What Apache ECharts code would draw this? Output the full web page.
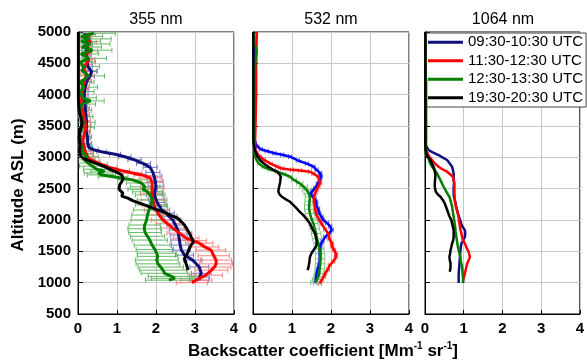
<!DOCTYPE html>
<html>
<head>
<meta charset="utf-8">
<script src="https://cdn.jsdelivr.net/npm/echarts@6/dist/echarts.min.js"></script>
<style>
  html, body { margin: 0; padding: 0; background: #fff; }
  #chart { width: 587px; height: 362px; }
</style>
</head>
<body>
<div id="chart"></div>
<script>
// panel titles, legend entries and tick values
const wavelengths = ['355 nm', '532 nm', '1064 nm'];
const periods = ['09:30-10:30 UTC', '11:30-12:30 UTC', '12:30-13:30 UTC', '19:30-20:30 UTC'];
const xTicks = [0, 1, 2, 3, 4];
const altTicks = [500, 5000, 500]; // min, max, step

// rows: [altitude m, backscatter Mm-1 sr-1, error]
const blue355 = [[1040,3.10,0.25],[1090,3.12,0.25],[1150,3.16,0.25],[1250,3.11,0.24],[1360,2.94,0.24],[1440,2.73,0.23],[1520,2.65,0.23],[1600,2.62,0.22],[1680,2.60,0.22],[1760,2.58,0.22],[1840,2.56,0.22],[1920,2.50,0.22],[2000,2.43,0.21],[2060,2.33,0.21],[2110,2.26,0.21],[2160,2.15,0.2],[2220,2.09,0.2],[2280,2.03,0.2],[2330,2.00,0.2],[2400,1.96,0.2],[2450,1.97,0.2],[2540,2.00,0.2],[2620,1.98,0.2],[2700,1.95,0.2],[2760,1.92,0.18],[2840,1.85,0.18],[2900,1.68,0.18],[2960,1.45,0.17],[3010,1.20,0.16],[3050,0.95,0.14],[3090,0.60,0.12],[3120,0.40,0.12],[3160,0.28,0.1],[3220,0.25,0.1],[3330,0.24,0.1],[3420,0.21,0.1],[3500,0.22,0.1],[3580,0.22,0.1],[3680,0.20,0.1],[3790,0.19,0.1],[3900,0.17,0.1],[4000,0.16,0.1],[4100,0.18,0.1],[4210,0.22,0.12],[4290,0.30,0.12],[4370,0.35,0.12],[4450,0.25,0.12],[4530,0.24,0.12],[4620,0.22,0.12],[4700,0.22,0.12],[4800,0.25,0.12],[4900,0.20,0.12],[4980,0.17,0.12]];
const red355 = [[1000,2.92,0.4],[1040,3.03,0.4],[1120,3.28,0.42],[1200,3.42,0.42],[1250,3.50,0.42],[1300,3.54,0.42],[1360,3.54,0.4],[1430,3.48,0.4],[1520,3.41,0.38],[1570,3.25,0.36],[1630,3.11,0.35],[1670,2.95,0.34],[1710,2.77,0.33],[1790,2.60,0.32],[1870,2.43,0.3],[1940,2.30,0.3],[2000,2.18,0.3],[2080,2.08,0.3],[2160,2.00,0.3],[2240,1.95,0.3],[2320,1.92,0.3],[2420,1.90,0.3],[2510,1.90,0.3],[2600,1.90,0.28],[2670,1.85,0.28],[2710,1.70,0.26],[2750,1.40,0.24],[2790,1.10,0.22],[2840,0.80,0.2],[2890,0.58,0.18],[2940,0.40,0.16],[2990,0.26,0.15],[3050,0.22,0.15],[3100,0.18,0.14],[3180,0.15,0.14],[3260,0.12,0.14],[3340,0.15,0.14],[3420,0.18,0.14],[3500,0.20,0.14],[3580,0.18,0.14],[3660,0.15,0.14],[3740,0.12,0.14],[3820,0.10,0.14],[3900,0.09,0.14],[4000,0.10,0.14],[4080,0.12,0.14],[4160,0.15,0.14],[4240,0.18,0.15],[4320,0.22,0.15],[4400,0.15,0.15],[4480,0.20,0.15],[4560,0.28,0.15],[4640,0.18,0.15],[4700,0.35,0.15],[4770,0.20,0.15],[4840,0.32,0.15],[4900,0.20,0.15],[4960,0.30,0.15]];
const green355 = [[1040,2.33,0.6],[1070,2.48,0.6],[1100,2.40,0.6],[1150,2.22,0.6],[1200,2.18,0.6],[1250,2.12,0.58],[1300,2.05,0.56],[1360,2.02,0.55],[1420,2.04,0.52],[1470,2.02,0.5],[1530,1.97,0.48],[1600,1.90,0.46],[1680,1.84,0.45],[1740,1.78,0.44],[1800,1.72,0.42],[1860,1.70,0.42],[1920,1.71,0.4],[2000,1.76,0.4],[2080,1.78,0.4],[2160,1.82,0.4],[2240,1.87,0.4],[2320,1.90,0.38],[2400,1.85,0.38],[2450,1.78,0.38],[2490,1.66,0.38],[2530,1.72,0.38],[2590,1.62,0.38],[2640,1.40,0.38],[2690,0.90,0.38],[2720,0.60,0.36],[2750,0.52,0.36],[2780,0.68,0.35],[2810,0.48,0.34],[2860,0.36,0.32],[2910,0.26,0.3],[2960,0.16,0.28],[3010,0.24,0.28],[3060,0.14,0.26],[3120,0.10,0.25],[3200,0.08,0.25],[3300,0.06,0.25],[3400,0.05,0.25],[3480,0.12,0.3],[3560,0.14,0.3],[3650,0.08,0.3],[3750,0.05,0.3],[3850,0.10,0.35],[3900,0.32,0.35],[3950,0.12,0.35],[4050,0.06,0.35],[4120,0.15,0.35],[4200,0.06,0.35],[4300,0.28,0.4],[4380,0.10,0.4],[4450,0.15,0.4],[4520,0.05,0.4],[4580,0.28,0.45],[4650,0.08,0.45],[4710,0.37,0.5],[4760,0.10,0.5],[4810,0.32,0.5],[4850,0.08,0.5],[4890,0.30,0.55],[4930,0.08,0.55],[4980,0.41,0.55]];
const black355 = [[1200,2.82],[1250,2.80],[1305,2.77],[1385,2.73],[1440,2.78],[1492,2.82],[1550,2.86],[1600,2.90],[1640,2.95],[1680,2.94],[1730,2.90],[1787,2.86],[1850,2.80],[1921,2.73],[1970,2.65],[2028,2.56],[2070,2.40],[2109,2.26],[2150,2.10],[2189,1.92],[2230,1.75],[2270,1.58],[2310,1.40],[2350,1.28],[2380,1.12],[2403,1.07],[2430,1.15],[2457,1.11],[2490,1.05],[2520,1.02],[2564,1.07],[2610,1.12],[2645,1.15],[2690,1.14],[2725,1.11],[2760,1.00],[2800,0.85],[2856,0.67],[2900,0.48],[2936,0.32],[2980,0.15],[3016,0.08],[3060,0.05],[3120,0.04],[3200,0.05],[3300,0.03],[3400,0.04],[3480,0.08],[3550,0.10],[3620,0.08],[3700,0.04],[3800,0.02],[3950,0.01],[4300,0.01],[4700,0.01],[5000,0.01]];

const blue532 = [[1000,1.60,0.04],[1080,1.62,0.04],[1145,1.63,0.04],[1220,1.66,0.04],[1300,1.70,0.04],[1380,1.72,0.04],[1460,1.72,0.04],[1540,1.72,0.04],[1600,1.73,0.04],[1660,1.78,0.04],[1730,1.85,0.04],[1790,1.96,0.04],[1840,2.02,0.04],[1900,1.98,0.04],[1950,1.90,0.04],[2000,1.80,0.04],[2050,1.76,0.04],[2110,1.70,0.04],[2180,1.67,0.04],[2240,1.62,0.04],[2290,1.62,0.04],[2340,1.58,0.04],[2380,1.52,0.04],[2420,1.48,0.04],[2460,1.52,0.04],[2510,1.59,0.04],[2580,1.66,0.04],[2640,1.72,0.04],[2700,1.74,0.04],[2750,1.72,0.04],[2800,1.63,0.04],[2850,1.55,0.04],[2900,1.38,0.04],[2950,1.15,0.04],[3010,0.95,0.04],[3040,0.75,0.04],[3064,0.55,0.04],[3100,0.35,0.04],[3130,0.20,0.04],[3170,0.12,0.03],[3220,0.06,0.03],[3300,0.04,0],[3500,0.03,0],[3800,0.03,0],[4200,0.02,0],[4600,0.02,0],[5000,0.02,0]];
const red532 = [[990,1.72,0.04],[1040,1.76,0.04],[1100,1.82,0.04],[1150,1.85,0.04],[1210,1.92,0.04],[1280,1.97,0.04],[1340,2.06,0.04],[1400,2.12,0.04],[1460,2.13,0.04],[1520,2.08,0.04],[1580,2.03,0.04],[1630,2.02,0.04],[1700,1.96,0.04],[1780,1.93,0.04],[1850,1.85,0.04],[1940,1.76,0.04],[2000,1.70,0.04],[2080,1.63,0.04],[2150,1.60,0.04],[2210,1.59,0.04],[2290,1.57,0.04],[2370,1.56,0.04],[2430,1.60,0.04],[2480,1.63,0.04],[2540,1.68,0.04],[2590,1.72,0.04],[2640,1.70,0.04],[2690,1.68,0.04],[2740,1.55,0.04],[2770,1.46,0.04],[2790,1.20,0.04],[2800,1.00,0.04],[2820,0.75,0.04],[2850,0.62,0.04],[2900,0.45,0.04],[2960,0.28,0.04],[3010,0.18,0.03],[3070,0.10,0.03],[3120,0.06,0],[3200,0.05,0],[3400,0.06,0],[3700,0.07,0],[4000,0.08,0],[4400,0.08,0],[4800,0.09,0],[5000,0.10,0]];
const green532 = [[1000,1.60,0.12],[1050,1.64,0.12],[1100,1.68,0.12],[1145,1.70,0.12],[1220,1.71,0.12],[1300,1.72,0.12],[1380,1.72,0.12],[1465,1.72,0.12],[1540,1.70,0.12],[1625,1.68,0.12],[1700,1.64,0.12],[1785,1.62,0.12],[1860,1.58,0.12],[1945,1.55,0.12],[2020,1.50,0.12],[2104,1.46,0.12],[2170,1.44,0.12],[2238,1.44,0.12],[2300,1.45,0.12],[2371,1.46,0.12],[2420,1.43,0.12],[2478,1.38,0.12],[2530,1.30,0.1],[2584,1.20,0.08],[2640,1.05,0.06],[2691,0.95,0.05],[2730,0.80,0.04],[2771,0.61,0.04],[2810,0.42,0.04],[2850,0.26,0.03],[2900,0.15,0.03],[2957,0.09,0],[3020,0.05,0],[3100,0.04,0],[3200,0.03,0],[3400,0.03,0],[3700,0.04,0],[4000,0.04,0],[4300,0.04,0],[4600,0.07,0],[4700,0.10,0],[4800,0.04,0],[5000,0.03,0]];
const black532 = [[1200,1.40],[1240,1.42],[1305,1.44],[1360,1.45],[1411,1.46],[1470,1.50],[1518,1.55],[1560,1.60],[1598,1.63],[1640,1.63],[1678,1.63],[1730,1.61],[1785,1.59],[1860,1.52],[1945,1.46],[2010,1.38],[2078,1.29],[2130,1.20],[2184,1.12],[2240,1.03],[2291,0.95],[2330,0.84],[2371,0.74],[2410,0.68],[2451,0.65],[2500,0.66],[2558,0.68],[2620,0.70],[2691,0.71],[2730,0.68],[2771,0.61],[2810,0.50],[2850,0.39],[2900,0.28],[2957,0.18],[3030,0.10],[3117,0.05],[3200,0.02],[3277,0.01],[4000,0.01],[5000,0.01]];

const blue1064 = [[996,0.87],[1070,0.87],[1145,0.87],[1225,0.88],[1305,0.89],[1385,0.90],[1465,0.91],[1545,0.92],[1625,0.94],[1680,0.99],[1731,1.03],[1790,1.04],[1838,1.03],[1900,0.96],[1950,0.93],[1998,0.91],[2080,0.86],[2158,0.83],[2230,0.80],[2291,0.78],[2360,0.75],[2424,0.74],[2500,0.74],[2584,0.75],[2660,0.74],[2744,0.74],[2800,0.72],[2850,0.70],[2900,0.64],[2957,0.57],[3000,0.45],[3037,0.35],[3080,0.20],[3117,0.09],[3170,0.04],[3224,0.01],[4000,0.01],[5000,0.01]];
const red1064 = [[996,0.97],[1070,1.00],[1145,1.03],[1225,1.06],[1305,1.09],[1360,1.13],[1411,1.16],[1460,1.14],[1492,1.13],[1560,1.07],[1625,1.03],[1700,0.97],[1785,0.94],[1860,0.91],[1945,0.89],[2030,0.87],[2104,0.85],[2180,0.81],[2264,0.78],[2340,0.77],[2424,0.76],[2500,0.76],[2584,0.76],[2640,0.74],[2691,0.72],[2730,0.65],[2771,0.57],[2810,0.45],[2850,0.35],[2900,0.26],[2957,0.18],[3030,0.09],[3117,0.03],[3200,0.01],[5000,0.01]];
const green1064 = [[996,0.99],[1092,0.98],[1170,0.97],[1252,0.96],[1330,0.93],[1411,0.91],[1490,0.88],[1571,0.85],[1650,0.83],[1731,0.81],[1810,0.79],[1891,0.78],[1970,0.76],[2051,0.74],[2130,0.72],[2211,0.70],[2290,0.67],[2371,0.63],[2420,0.58],[2478,0.53],[2530,0.48],[2584,0.44],[2660,0.38],[2744,0.31],[2800,0.24],[2850,0.18],[2920,0.12],[2984,0.09],[3030,0.04],[3064,0.02],[3300,0.03],[3700,0.03],[4200,0.03],[4400,0.01],[5000,0.01]];
const black1064 = [[1175,0.64],[1240,0.66],[1305,0.66],[1360,0.64],[1411,0.63],[1470,0.65],[1518,0.66],[1570,0.68],[1625,0.70],[1680,0.73],[1731,0.74],[1790,0.74],[1838,0.74],[1920,0.71],[1998,0.68],[2060,0.63],[2131,0.59],[2200,0.55],[2264,0.51],[2320,0.46],[2371,0.40],[2410,0.33],[2451,0.28],[2500,0.26],[2558,0.25],[2640,0.26],[2718,0.27],[2790,0.25],[2850,0.22],[2900,0.18],[2957,0.14],[3010,0.07],[3064,0.03],[3150,0.01],[5000,0.01]];

const FONT = '"Liberation Sans", Arial, sans-serif';
const panels = [
  { data: [blue355, red355, green355, black355], left: 78, lw: 3,
    colors: ['#10107c', '#ff0000', '#008000', '#000000'], errColors: ['#7878c0', '#ff8080', '#66b866', '#000'] },
  { data: [blue532, red532, green532, black532], left: 253, lw: 2.5,
    colors: ['#0000ff', '#ff0000', '#008000', '#000000'], errColors: ['#6a6aff', '#ff7070', '#80c480', '#000'] },
  { data: [blue1064, red1064, green1064, black1064], left: 425, lw: 2.5,
    colors: ['#10107c', '#ff0000', '#008000', '#000000'], errColors: ['#7878c0', '#ff8080', '#66b866', '#000'] }
];
const gridTop = 32, gridW = 156, gridH = 282;

function errBar(color) {
  return function (params, api) {
    const x = api.value(0), y = api.value(1), e = api.value(2);
    const a = api.coord([x - e, y]);
    const b = api.coord([x + e, y]);
    const c = 2.5;
    const st = { stroke: color, lineWidth: 1 };
    return {
      type: 'group',
      children: [
        { type: 'line', shape: { x1: a[0], y1: a[1], x2: b[0], y2: b[1] }, style: st },
        { type: 'line', shape: { x1: a[0], y1: a[1] - c, x2: a[0], y2: a[1] + c }, style: st },
        { type: 'line', shape: { x1: b[0], y1: b[1] - c, x2: b[0], y2: b[1] + c }, style: st }
      ]
    };
  };
}

const grids = [], xAxes = [], yAxes = [], titles = [], series = [];
panels.forEach((p, i) => {
  grids.push({ left: p.left, top: gridTop, width: gridW, height: gridH,
    show: true, borderColor: '#000', borderWidth: 1, backgroundColor: 'transparent' });
  titles.push({ text: wavelengths[i], left: p.left + gridW / 2, top: 12, textAlign: 'center', padding: 0,
    textStyle: { fontFamily: FONT, fontSize: 16, fontWeight: 'normal', color: '#000' } });
  xAxes.push({
    type: 'value', gridIndex: i, min: xTicks[0], max: xTicks[xTicks.length - 1], interval: 1,
    axisLine: { show: true, lineStyle: { color: '#000' } },
    axisTick: { show: true, inside: true, length: 4, lineStyle: { color: '#000' } },
    splitLine: { show: true, lineStyle: { color: '#c8c8c8', width: 1 } },
    axisLabel: { margin: 7, fontFamily: FONT, fontSize: 15, fontWeight: 'bold', color: '#000',
      showMinLabel: true, showMaxLabel: true, formatter: v => String(v) }
  });
  yAxes.push({
    type: 'value', gridIndex: i, min: altTicks[0], max: altTicks[1], interval: altTicks[2],
    axisLine: { show: true, lineStyle: { color: '#000' } },
    axisTick: { show: true, inside: true, length: 5, lineStyle: { color: '#000' } },
    splitLine: { show: true, lineStyle: { color: '#c8c8c8', width: 1 } },
    axisLabel: { show: i === 0, margin: 7, fontFamily: FONT, fontSize: 15, fontWeight: 'bold', color: '#000',
      formatter: v => String(v) }
  });
  p.data.forEach((rows, k) => {
    const errRows = rows.filter(r => r[2] > 0);
    if (errRows.length) {
      series.push({
        type: 'custom', xAxisIndex: i, yAxisIndex: i, clip: true, silent: true, z: 1,
        encode: { x: 0, y: 1 },
        data: errRows.map(r => [r[1], r[0], r[2]]),
        renderItem: errBar(p.errColors[k])
      });
    }
    series.push({
      type: 'line', name: periods[k], xAxisIndex: i, yAxisIndex: i, z: 2 + k,
      data: rows.map(r => [r[1], r[0]]),
      showSymbol: false, clip: true,
      lineStyle: { color: p.colors[k], width: p.lw },
      itemStyle: { color: p.colors[k] }
    });
  });
});

const chart = echarts.init(document.getElementById('chart'));
chart.setOption({
  animation: false,
  title: titles,
  grid: grids,
  xAxis: xAxes,
  yAxis: yAxes,
  legend: {
    data: periods, orient: 'vertical', left: 426, top: 33,
    padding: [0, 3, 0, 2], itemGap: 0, itemWidth: 35, itemHeight: 3, icon: 'rect',
    backgroundColor: '#fff', borderColor: '#444', borderWidth: 1, borderRadius: 0,
    textStyle: { fontFamily: FONT, fontSize: 15, color: '#000', lineHeight: 18.5 }
  },
  graphic: [
    { type: 'text', x: 18, y: 185, rotation: Math.PI / 2,
      style: { text: 'Altitude ASL (m)', font: 'bold 17px ' + FONT, fill: '#000',
        textAlign: 'center', textVerticalAlign: 'middle' } },
    { type: 'text', x: 323, y: 351,
      style: {
        text: '{b|Backscatter coefficient [Mm}{s|-1}{b| sr}{s|-1}{b|]}',
        textAlign: 'center', textVerticalAlign: 'middle', fill: '#000',
        rich: {
          b: { fontFamily: FONT, fontSize: 17, fontWeight: 'bold', lineHeight: 20 },
          s: { fontFamily: FONT, fontSize: 10, fontWeight: 'bold', verticalAlign: 'top', lineHeight: 11 }
        }
      } }
  ],
  series: series
});
</script>
</body>
</html>
